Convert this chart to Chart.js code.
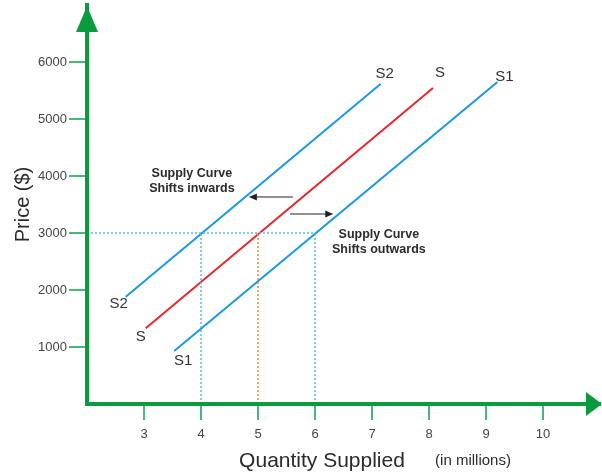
<!DOCTYPE html>
<html>
<head>
<meta charset="utf-8">
<script src="https://cdn.jsdelivr.net/npm/chart.js@4.4.1/dist/chart.umd.min.js"></script>
<style>
  html, body { margin: 0; padding: 0; background: #fff; }
  canvas { display: block; }
</style>
</head>
<body>
<canvas id="chart" width="602" height="473"></canvas>
<script>
const xTicks = [3, 4, 5, 6, 7, 8, 9, 10];
const yTicks = [1000, 2000, 3000, 4000, 5000, 6000];

// supply curves, start and end points
const supplyS2 = [{ x: 2.68, y: 1880 }, { x: 7.15, y: 5615 }];
const supplyS = [{ x: 3.03, y: 1330 }, { x: 8.07, y: 5545 }];
const supplyS1 = [{ x: 3.53, y: 930 }, { x: 9.2, y: 5650 }];

// quantity supplied at the same price on S2, S and S1
const eqPrice = 3000;
const eqQty = [4, 5, 6];

const GREEN = '#0b9a3f';
const TICK_GREEN = '#47b878';
const BLUE = '#1b98e0';
const RED = '#e8262b';
const DOT_BLUE = '#5cb8ee';
const DOT_ORANGE = '#f0853a';
const FONT = '"Liberation Sans", Arial, sans-serif';

function dotted(data, color) {
	return {
		data: data,
		borderColor: color,
		borderWidth: 1.5,
		borderDash: [2, 2],
		pointRadius: 0,
		fill: false,
	};
}

function curve(name, data, color, startOff, endOff) {
	return {
		label: name,
		data: data,
		borderColor: color,
		borderWidth: 2,
		pointRadius: 0,
		fill: false,
		endLabels: { startOff, endOff },
	};
}

const decor = {
	id: 'decor',
	afterDatasetsDraw(chart) {
		const { ctx, scales: { x, y } } = chart;
		ctx.save();

		// curve names at both ends
		ctx.fillStyle = '#333';
		ctx.font = '15px ' + FONT;
		ctx.textAlign = 'center';
		ctx.textBaseline = 'middle';
		chart.data.datasets.forEach((ds) => {
			if (!ds.endLabels) return;
			const a = ds.data[0];
			const b = ds.data[ds.data.length - 1];
			const so = ds.endLabels.startOff;
			const eo = ds.endLabels.endOff;
			ctx.fillText(ds.label, x.getPixelForValue(a.x) + so[0], y.getPixelForValue(a.y) + so[1]);
			ctx.fillText(ds.label, x.getPixelForValue(b.x) + eo[0], y.getPixelForValue(b.y) + eo[1]);
		});

		// notes
		ctx.font = 'bold 12.5px ' + FONT;
		ctx.fillStyle = '#2a2a2a';
		const notes = [
			{ x: 3.84, y: 3904, lines: ['Supply Curve', 'Shifts inwards'] },
			{ x: 7.12, y: 2833, lines: ['Supply Curve', 'Shifts outwards'] },
		];
		notes.forEach((n) => {
			const px = x.getPixelForValue(n.x);
			const py = y.getPixelForValue(n.y);
			ctx.fillText(n.lines[0], px, py - 7.5);
			ctx.fillText(n.lines[1], px, py + 7.5);
		});

		// shift arrows
		const arrows = [
			{ from: [5.61, 3632], to: [4.84, 3632] },
			{ from: [5.56, 3333], to: [6.32, 3333] },
		];
		ctx.strokeStyle = '#222';
		ctx.fillStyle = '#222';
		ctx.lineWidth = 1.2;
		arrows.forEach((ar) => {
			const x1 = x.getPixelForValue(ar.from[0]);
			const x2 = x.getPixelForValue(ar.to[0]);
			const py = y.getPixelForValue(ar.from[1]);
			const dir = Math.sign(x2 - x1);
			ctx.beginPath();
			ctx.moveTo(x1, py);
			ctx.lineTo(x2 - dir * 6, py);
			ctx.stroke();
			ctx.beginPath();
			ctx.moveTo(x2, py);
			ctx.lineTo(x2 - dir * 8, py - 3.5);
			ctx.lineTo(x2 - dir * 8, py + 3.5);
			ctx.closePath();
			ctx.fill();
		});

		ctx.restore();
	},
	afterDraw(chart) {
		const { ctx, chartArea } = chart;
		ctx.save();
		// axis arrowheads
		ctx.fillStyle = GREEN;
		ctx.beginPath();
		ctx.moveTo(chartArea.left, chartArea.top + 1);
		ctx.lineTo(chartArea.left - 11, chartArea.top + 27);
		ctx.lineTo(chartArea.left + 11, chartArea.top + 27);
		ctx.closePath();
		ctx.fill();
		ctx.beginPath();
		ctx.moveTo(chartArea.right + 2, chartArea.bottom);
		ctx.lineTo(chartArea.right - 14, chartArea.bottom - 12);
		ctx.lineTo(chartArea.right - 14, chartArea.bottom + 12);
		ctx.closePath();
		ctx.fill();

		// x axis title
		ctx.fillStyle = '#2a2a2a';
		ctx.textBaseline = 'middle';
		ctx.textAlign = 'center';
		ctx.font = '21px ' + FONT;
		ctx.fillText('Quantity Supplied', 322, 461);
		ctx.font = '15px ' + FONT;
		ctx.fillText('(in millions)', 473, 461);
		ctx.restore();
	},
};

const ctx = document.getElementById('chart').getContext('2d');
const chart = new Chart(ctx, {
	type: 'line',
	data: {
		datasets: [
			dotted([{ x: 2, y: eqPrice }, { x: eqQty[2], y: eqPrice }], DOT_BLUE),
			dotted([{ x: eqQty[0], y: 0 }, { x: eqQty[0], y: eqPrice }], DOT_BLUE),
			dotted([{ x: eqQty[1], y: 0 }, { x: eqQty[1], y: eqPrice }], DOT_ORANGE),
			dotted([{ x: eqQty[2], y: 0 }, { x: eqQty[2], y: eqPrice }], DOT_BLUE),
			curve('S2', supplyS2, BLUE, [-7, 7], [4, -10]),
			curve('S', supplyS, RED, [-5, 9], [7, -15]),
			curve('S1', supplyS1, BLUE, [9, 10], [7, -5]),
		],
	},
	options: {
		responsive: false,
		animation: false,
		layout: { padding: { top: 5, right: 2, left: 0, bottom: 0 } },
		plugins: {
			legend: { display: false },
			tooltip: { enabled: false },
		},
		scales: {
			x: {
				type: 'linear',
				min: 2,
				max: 11,
				afterBuildTicks: (s) => { s.ticks = xTicks.map((v) => ({ value: v })); },
				afterFit: (s) => { s.height = 69; s.paddingLeft = 0; s.paddingRight = 0; },
				grid: { drawOnChartArea: false, drawTicks: true, tickLength: 16, color: TICK_GREEN, lineWidth: 2 },
				border: { display: true, color: GREEN, width: 4, z: 1 },
				ticks: { color: '#444', font: { size: 13, family: FONT }, padding: 7, maxRotation: 0 },
			},
			y: {
				type: 'linear',
				min: 0,
				max: 7000,
				afterBuildTicks: (s) => { s.ticks = yTicks.map((v) => ({ value: v })); },
				afterFit: (s) => { s.width = 87; s.paddingTop = 0; s.paddingBottom = 0; },
				grid: { drawOnChartArea: false, drawTicks: true, tickLength: 18, color: TICK_GREEN, lineWidth: 2 },
				border: { display: true, color: GREEN, width: 4, z: 1 },
				ticks: {
					color: '#444',
					font: { size: 13, family: FONT },
					padding: 2,
					callback: (v) => String(v),
				},
				title: { display: true, text: 'Price ($)', color: '#2a2a2a', font: { size: 20, family: FONT }, padding: { top: 11 } },
			},
		},
	},
	plugins: [decor],
});
</script>
</body>
</html>
